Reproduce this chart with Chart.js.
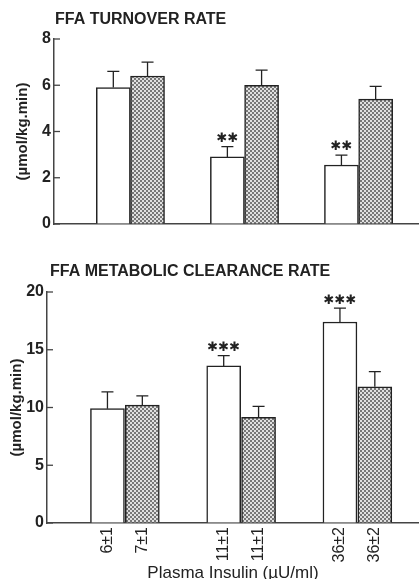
<!DOCTYPE html>
<html>
<head>
<meta charset="utf-8">
<script src="https://cdn.jsdelivr.net/npm/chart.js@4.4.1/dist/chart.umd.min.js"></script>
<style>
    html, body { margin: 0; padding: 0; background: #fff; overflow: hidden; width: 419px; height: 579px; }
    canvas { position: absolute; left: 0; }
    #turnover { top: 0; width: 419px; height: 240px; }
    #clearance { top: 250px; width: 419px; height: 335px; }
</style>
</head>
<body>
<canvas id="turnover" width="419" height="240"></canvas>
<canvas id="clearance" width="419" height="335"></canvas>
<script>
'use strict';

// plasma insulin of each bar (open bars / stippled bars)
const insulinOpen = ['6±1', '11±1', '36±2'];
const insulinStippled = ['7±1', '11±1', '36±2'];

// FFA turnover rate, µmol/kg.min
const turnoverOpen = [5.9, 2.9, 2.55];
const turnoverOpenSem = [0.7, 0.45, 0.43];
const turnoverStippled = [6.4, 6.0, 5.4];
const turnoverStippledSem = [0.6, 0.65, 0.55];
const turnoverSig = ['', '**', '**'];

// FFA metabolic clearance rate, µmol/kg.min
const clearanceOpen = [9.9, 13.6, 17.4];
const clearanceOpenSem = [1.45, 0.9, 1.2];
const clearanceStippled = [10.2, 9.15, 11.8];
const clearanceStippledSem = [0.8, 0.95, 1.3];
const clearanceSig = ['', '***', '***'];

const INK = '#222';
const FONT = '"Liberation Sans", Arial, sans-serif';

// точечная штриховка для второго столбика
function stipple() {
    const c = document.createElement('canvas');
    c.width = c.height = 4;
    const g = c.getContext('2d');
    g.fillStyle = '#e0e0e0';
    g.fillRect(0, 0, 4, 4);
    g.fillStyle = '#777';
    g.fillRect(0, 0, 2, 2);
    g.fillRect(2, 2, 2, 2);
    return g.createPattern(c, 'repeat');
}

// error bars, significance stars, inward y ticks and the panel title
const decor = {
    id: 'decor',
    afterDatasetsDraw(chart) {
        const { ctx, scales: { x, y } } = chart;
        ctx.save();
        ctx.strokeStyle = INK;
        ctx.fillStyle = INK;
        ctx.lineWidth = 1.3;
        chart.data.datasets.forEach((ds) => {
            ds.data.forEach((p, i) => {
                const px = x.getPixelForValue(p.x);
                const top = y.getPixelForValue(p.y);
                const hi = y.getPixelForValue(p.y + ds.sem[i]);
                ctx.beginPath();
                ctx.moveTo(px, top);
                ctx.lineTo(px, hi);
                ctx.moveTo(px - 6, hi);
                ctx.lineTo(px + 6, hi);
                ctx.stroke();
                if (ds.sig && ds.sig[i]) {
                    ctx.font = 'bold 13px "DejaVu Sans"';
                    ctx.textAlign = 'center';
                    ctx.textBaseline = 'middle';
                    ctx.fillText(ds.sig[i].replace(/\*/g, '\u2731'), px, hi - 8);
                }
            });
        });
        ctx.restore();
    },
    afterDraw(chart, args, opts) {
        const { ctx, chartArea, scales: { y } } = chart;
        ctx.save();
        ctx.strokeStyle = '#444';
        ctx.lineWidth = 1.3;
        y.ticks.forEach((t) => {
            const py = y.getPixelForValue(t.value);
            ctx.beginPath();
            ctx.moveTo(chartArea.left, py);
            ctx.lineTo(chartArea.left + 6, py);
            ctx.stroke();
        });
        ctx.fillStyle = INK;
        ctx.font = 'bold 16px ' + FONT;
        ctx.textAlign = 'left';
        ctx.textBaseline = 'middle';
        ctx.fillText(opts.text, chartArea.left + opts.dx, opts.y);
        ctx.restore();
    },
};

function makeDatasets(open, openSem, stip, stipSem, sig) {
    const pattern = stipple();
    const base = { borderColor: INK, borderWidth: 1.5, barThickness: 34 };
    return [
        Object.assign({}, base, {
            label: 'open',
            data: open.map((v, i) => ({ x: i + 1 - 0.15, y: v })),
            backgroundColor: '#fff',
            sem: openSem,
            sig: sig,
        }),
        Object.assign({}, base, {
            label: 'stippled',
            data: stip.map((v, i) => ({ x: i + 1 + 0.15, y: v })),
            backgroundColor: pattern,
            sem: stipSem,
        }),
    ];
}

function makeConfig(cfg) {
    return {
        type: 'bar',
        data: { datasets: makeDatasets(cfg.open, cfg.openSem, cfg.stip, cfg.stipSem, cfg.sig) },
        plugins: [decor],
        options: {
            responsive: false,
            animation: false,
            grouped: false,
            layout: { padding: { top: cfg.padTop, right: 0, left: 0, bottom: 0 } },
            plugins: {
                legend: { display: false },
                tooltip: { enabled: false },
                decor: { text: cfg.title, dx: cfg.titleDx, y: cfg.titleY },
            },
            scales: {
                x: {
                    type: 'linear',
                    offset: false,
                    min: 0.33,
                    max: 3.53,
                    grid: { display: true, drawOnChartArea: false, drawTicks: false },
                    border: { color: '#444', width: 1.5 },
                    afterBuildTicks: (scale) => {
                        const t = [];
                        insulinOpen.forEach((_, i) => {
                            t.push({ value: i + 1 - 0.15 }, { value: i + 1 + 0.15 });
                        });
                        scale.ticks = t;
                    },
                    ticks: {
                        display: cfg.xLabels,
                        autoSkip: false,
                        minRotation: 90,
                        maxRotation: 90,
                        padding: 4,
                        color: INK,
                        font: { family: FONT, size: 16 },
                        callback: (v) => {
                            const i = Math.round(v) - 1;
                            return v < Math.round(v) ? insulinOpen[i] : insulinStippled[i];
                        },
                    },
                    title: {
                        display: cfg.xLabels,
                        text: 'Plasma Insulin (\u00b5U/ml)',
                        color: INK,
                        font: { family: FONT, size: 17, lineHeight: 1 },
                        padding: { top: 0, bottom: 3.5 },
                    },
                    afterFit: (scale) => { scale.height = cfg.xHeight; },
                },
                y: {
                    min: 0,
                    max: cfg.yMax,
                    grid: { display: true, drawOnChartArea: false, drawTicks: false },
                    border: { color: '#444', width: 1.5 },
                    ticks: {
                        stepSize: cfg.yStep,
                        padding: 3,
                        color: INK,
                        font: { family: FONT, size: 16, weight: 'bold' },
                    },
                    title: {
                        display: true,
                        text: '(\u00b5mol/kg.min)',
                        color: INK,
                        font: { family: FONT, size: 15, weight: 'bold' },
                        padding: { top: cfg.yTitlePad, bottom: 0 },
                    },
                    afterFit: (scale) => { scale.width = cfg.yWidth; },
                },
            },
        },
    };
}

new Chart(document.getElementById('turnover'), makeConfig({
    open: turnoverOpen, openSem: turnoverOpenSem,
    stip: turnoverStippled, stipSem: turnoverStippledSem, sig: turnoverSig,
    title: 'FFA TURNOVER RATE', titleDx: 1, titleY: 20,
    padTop: 39, yMax: 8, yStep: 2, yWidth: 54, xHeight: 16, xLabels: false, yTitlePad: 14,
}));

new Chart(document.getElementById('clearance'), makeConfig({
    open: clearanceOpen, openSem: clearanceOpenSem,
    stip: clearanceStippled, stipSem: clearanceStippledSem, sig: clearanceSig,
    title: 'FFA METABOLIC CLEARANCE RATE', titleDx: 3, titleY: 22,
    padTop: 42, yMax: 20, yStep: 5, yWidth: 47, xHeight: 62, xLabels: true, yTitlePad: 8,
}));
</script>
</body>
</html>
